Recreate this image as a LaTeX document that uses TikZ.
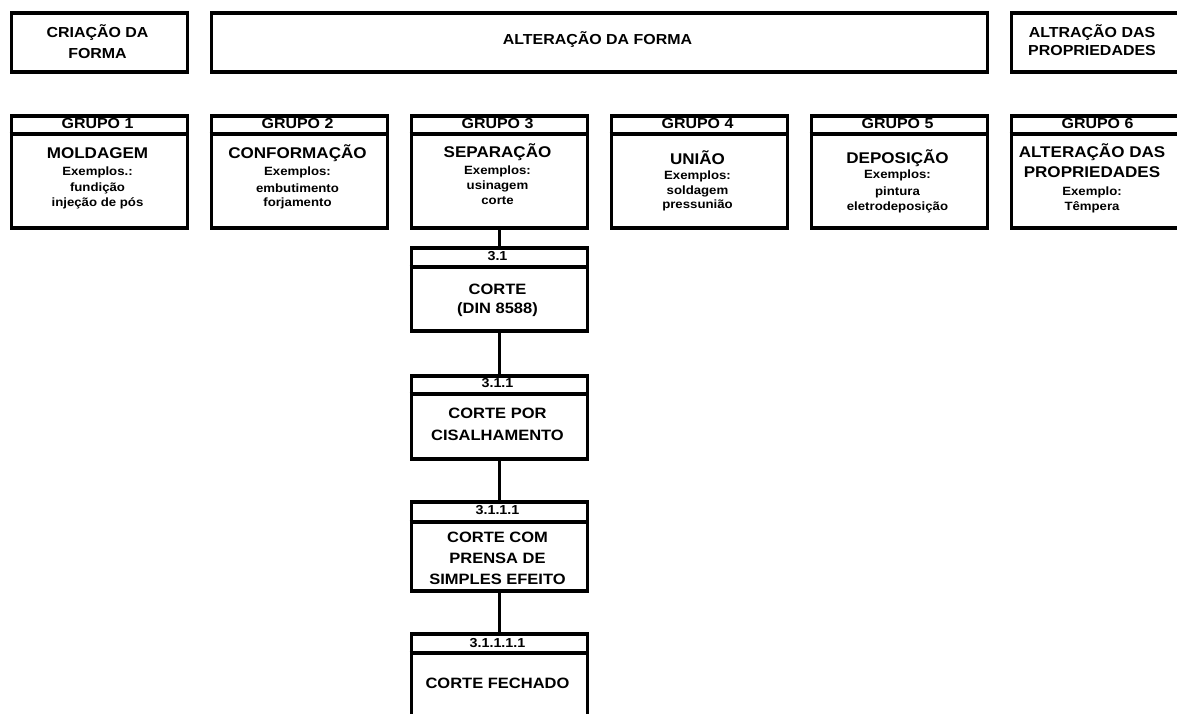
\documentclass[tikz,border=0pt]{standalone}
\usepackage{fontspec}
\setmainfont{Liberation Sans}[FakeStretch=1.1]
\begin{document}
\begin{tikzpicture}[x=1pt,y=-1pt,
  bx/.style={draw, line width=3.5pt, inner sep=0pt, anchor=north west},
  ln/.style={line width=3.5pt},
  hd/.style={font=\fontsize{14.5}{17}\selectfont\bfseries, inner sep=0pt},
  tt/.style={font=\fontsize{15.5}{18}\selectfont\bfseries, inner sep=0pt},
  ex/.style={font=\fontsize{12}{14}\selectfont\bfseries, inner sep=0pt},
  top/.style={font=\fontsize{14.5}{17}\selectfont\bfseries, inner sep=0pt},
  sh/.style={font=\fontsize{13}{15}\selectfont\bfseries, inner sep=0pt},
  sb/.style={font=\fontsize{15}{18}\selectfont\bfseries, inner sep=0pt}]
\useasboundingbox (0,0) rectangle (1177,713);
\clip (0,0) rectangle (1177,713);
% top row
\node[bx, minimum width=176pt, minimum height=59pt] (t1) at (9.5,11) {};
\node[bx, minimum width=776pt, minimum height=59pt] (t2) at (209.5,11) {};
\node[bx, minimum width=200pt, minimum height=59pt] (t3) at (1009.5,11) {};
\node[top] (t1a) at (97.5,33) {CRIAÇÃO DA};
\node[top] (t1b) at (97.5,54) {FORMA};
\node[top] (t2a) at (597.5,40) {ALTERAÇÃO DA FORMA};
\node[top] (t3a) at (1092,33) {ALTRAÇÃO DAS};
\node[top] (t3b) at (1092,51) {PROPRIEDADES};
% groups
\foreach \i in {0,...,5}{
  \node[bx, minimum width=176pt, minimum height=112pt] (g\i) at (9.5+200*\i,114) {};
  \draw[ln] ([yshift=-20pt]g\i.north west) -- ([yshift=-20pt]g\i.north east);
  \pgfmathtruncatemacro{\n}{\i+1}
  \node[hd] (gh\i) at (97.5+200*\i,124) {GRUPO \n};
}
% group 1
\node[tt] (a1) at (97.5,153) {MOLDAGEM};
\node[ex] (a2) at (97.5,172) {Exemplos.:};
\node[ex] (a3) at (97.5,188) {fundição};
\node[ex] (a4) at (97.5,203) {injeção de pós};
% group 2
\node[tt] (b1) at (297.5,153) {CONFORMAÇÃO};
\node[ex] (b2) at (297.5,172) {Exemplos:};
\node[ex] (b3) at (297.5,188) {embutimento};
\node[ex] (b4) at (297.5,203) {forjamento};
% group 3
\node[tt] (c1) at (497.5,152) {SEPARAÇÃO};
\node[ex] (c2) at (497.5,171) {Exemplos:};
\node[ex] (c3) at (497.5,186) {usinagem};
\node[ex] (c4) at (497.5,201) {corte};
% group 4
\node[tt] (d1) at (697.5,158) {UNIÃO};
\node[ex] (d2) at (697.5,176) {Exemplos:};
\node[ex] (d3) at (697.5,191) {soldagem};
\node[ex] (d4) at (697.5,205) {pressunião};
% group 5
\node[tt] (e1) at (897.5,158) {DEPOSIÇÃO};
\node[ex] (e2) at (897.5,175) {Exemplos:};
\node[ex] (e3) at (897.5,192) {pintura};
\node[ex] (e4) at (897.5,207) {eletrodeposição};
% group 6
\node[tt] (f1) at (1092,152) {ALTERAÇÃO DAS};
\node[tt] (f2) at (1092,172) {PROPRIEDADES};
\node[ex] (f3) at (1092,192) {Exemplo:};
\node[ex] (f4) at (1092,207) {Têmpera};
% chain under group 3
\node[bx, minimum width=176pt, minimum height=83pt] (s1) at (409.5,246) {};
\draw[ln] ([yshift=-21pt]s1.north west) -- ([yshift=-21pt]s1.north east);
\node[sh] (s1h) at (497.5,256) {3.1};
\node[sb] (s1a) at (497.5,289) {CORTE};
\node[sb] (s1b) at (497.5,310) {(DIN 8588)};

\node[bx, minimum width=176pt, minimum height=83pt] (s2) at (409.5,374) {};
\draw[ln] ([yshift=-20pt]s2.north west) -- ([yshift=-20pt]s2.north east);
\node[sh] (s2h) at (497.5,383) {3.1.1};
\node[sb] (s2a) at (497.5,413) {CORTE POR};
\node[sb] (s2b) at (497.5,435) {CISALHAMENTO};

\node[bx, minimum width=176pt, minimum height=89pt] (s3) at (409.5,500) {};
\draw[ln] ([yshift=-22pt]s3.north west) -- ([yshift=-22pt]s3.north east);
\node[sh] (s3h) at (497.5,510) {3.1.1.1};
\node[sb] (s3a) at (497.5,537) {CORTE COM};
\node[sb] (s3b) at (497.5,558) {PRENSA DE};
\node[sb] (s3c) at (497.5,579) {SIMPLES EFEITO};

\node[bx, minimum width=176pt, minimum height=100pt] (s4) at (409.5,632) {};
\draw[ln] ([yshift=-21pt]s4.north west) -- ([yshift=-21pt]s4.north east);
\node[sh] (s4h) at (497.5,643) {3.1.1.1.1};
\node[sb] (s4a) at (497.5,683) {CORTE FECHADO};
% connectors
\draw[ln] (g2.south) -- (s1.north);
\draw[ln] (s1.south) -- (s2.north);
\draw[ln] (s2.south) -- (s3.north);
\draw[ln] (s3.south) -- (s4.north);
\end{tikzpicture}
\end{document}
